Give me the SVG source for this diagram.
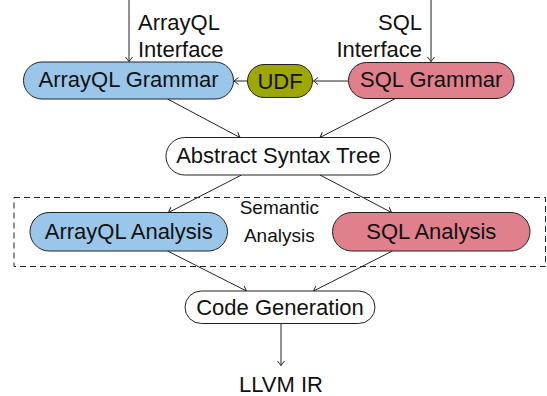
<svg xmlns="http://www.w3.org/2000/svg" width="547" height="396" viewBox="0 0 547 396">
<style>
.node{stroke:#222;stroke-width:1}
.blue{fill:#9ac6ea}
.pink{fill:#e0808c}
.olive{fill:#9ea600}
.white{fill:#fff}
text{font-family:"Liberation Sans",Arial,sans-serif;font-size:22px;fill:#111}
.c{text-anchor:middle}
.small{font-size:19px}
.edge{stroke:#222;stroke-width:1;fill:none;marker-end:url(#arr)}
</style>
<defs>
<marker id="arr" markerUnits="userSpaceOnUse" viewBox="-6 -5 8 10" refX="0" refY="0" markerWidth="8" markerHeight="10" orient="auto">
<path d="M -4.5 -3.5 Q -1 -0.8 0 0 Q -1 0.8 -4.5 3.5" fill="none" stroke="#222" stroke-width="1"/>
</marker>
</defs>
<rect x="14" y="197.5" width="531.5" height="69" fill="none" stroke="#222" stroke-width="1" stroke-dasharray="6 4"/>
<g id="connectors">
<line class="edge" x1="129" y1="0" x2="129" y2="61.5"/>
<line class="edge" x1="431" y1="0" x2="431" y2="61.5"/>
<line class="edge" x1="348" y1="81" x2="313.5" y2="81"/>
<line class="edge" x1="247.5" y1="81" x2="234" y2="81"/>
<line class="edge" x1="167.5" y1="99" x2="240" y2="137.5"/>
<line class="edge" x1="395.5" y1="98.5" x2="320" y2="137.5"/>
<line class="edge" x1="241.5" y1="175" x2="168.5" y2="212.5"/>
<line class="edge" x1="320" y1="175" x2="391.5" y2="212.5"/>
<line class="edge" x1="167.5" y1="251" x2="246.5" y2="291"/>
<line class="edge" x1="392.5" y1="251" x2="313.5" y2="291"/>
<line class="edge" x1="281" y1="323.5" x2="281" y2="365.5"/>
</g>
<g id="arrayql-interface">
<text x="138" y="29.5">ArrayQL</text>
<text x="138" y="56.5">Interface</text>
</g>
<g id="sql-interface">
<text x="422" y="29.5" text-anchor="end">SQL</text>
<text x="422" y="56.5" text-anchor="end">Interface</text>
</g>
<g id="arrayql-grammar">
<rect class="node blue" x="23.5" y="62" width="210" height="37" rx="18.5"/>
<text class="c" x="128.5" y="86.5">ArrayQL Grammar</text>
</g>
<g id="udf">
<rect class="node olive" x="247.5" y="64.5" width="65" height="33" rx="16.5"/>
<text class="c" x="280" y="88.5">UDF</text>
</g>
<g id="sql-grammar">
<rect class="node pink" x="348.5" y="62.5" width="165.5" height="36" rx="18"/>
<text class="c" x="431.2" y="86.5">SQL Grammar</text>
</g>
<g id="ast">
<rect class="node white" x="166" y="137.5" width="224.5" height="37.5" rx="18.75"/>
<text class="c" x="278.3" y="162.5">Abstract Syntax Tree</text>
</g>
<g id="semantic-analysis">
<text class="c small" x="279.3" y="214">Semantic</text>
<text class="c small" x="279.3" y="242">Analysis</text>
</g>
<g id="arrayql-analysis">
<rect class="node blue" x="30" y="212.5" width="197.5" height="38.5" rx="19.25"/>
<text class="c" x="128.7" y="238.5">ArrayQL Analysis</text>
</g>
<g id="sql-analysis">
<rect class="node pink" x="332.5" y="212.5" width="197.5" height="38.5" rx="19.25"/>
<text class="c" x="431.3" y="238.5">SQL Analysis</text>
</g>
<g id="code-generation">
<rect class="node white" x="185" y="291" width="190" height="32.5" rx="16.25"/>
<text class="c" x="280" y="315">Code Generation</text>
</g>
<g id="llvm-ir">
<text class="c" x="281" y="391.5">LLVM IR</text>
</g>
</svg>
